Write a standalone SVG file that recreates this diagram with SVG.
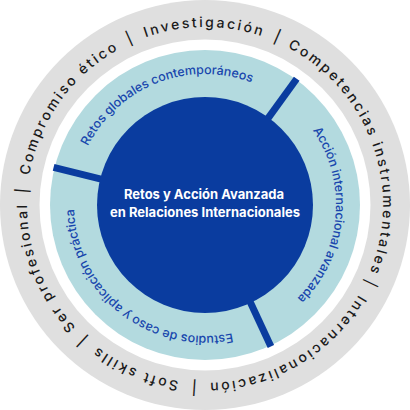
<svg xmlns="http://www.w3.org/2000/svg" width="410" height="410" viewBox="0 0 410 410">
  <style>
    .outer { font-family: Inter, "Liberation Sans", sans-serif; font-size: 14px; font-weight: 500; fill: #1a1a1a; letter-spacing: 2.4px; }
    .ring { font-family: Inter, "Liberation Sans", sans-serif; font-size: 12.5px; font-weight: 500; fill: #1846ad; }
    .center { font-family: Inter, "Liberation Sans", sans-serif; font-size: 13px; font-weight: bold; fill: #ffffff; }
    .divider { stroke: #0a3c9f; stroke-width: 7; }
  </style>
  <defs>
    <path id="outerPath" d="M 205 27 A 178 178 0 0 1 205 383 A 178 178 0 0 1 205 27 A 178 178 0 0 1 205 383 A 178 178 0 0 1 205 27" fill="none"/>
    <path id="ringPath" d="M 205 74 A 131 131 0 0 1 205 336 A 131 131 0 0 1 205 74 A 131 131 0 0 1 205 336 A 131 131 0 0 1 205 74" fill="none"/>
  </defs>
  <g id="outer-ring">
    <circle cx="205" cy="205" r="205" fill="#dfdfdf"/>
    <circle cx="205" cy="205" r="165.5" fill="#ffffff"/>
    <text class="outer" text-anchor="middle"><textPath href="#outerPath" startOffset="1117.5">Investigación</textPath></text>
    <text class="outer" text-anchor="middle"><textPath href="#outerPath" startOffset="218">Competencias instrumentales</textPath></text>
    <text class="outer" text-anchor="middle"><textPath href="#outerPath" startOffset="464.9">Internacionalización</textPath></text>
    <text class="outer" text-anchor="middle"><textPath href="#outerPath" startOffset="630.8">Soft skills</textPath></text>
    <text class="outer" text-anchor="middle"><textPath href="#outerPath" startOffset="772.3">Ser profesional</textPath></text>
    <text class="outer" text-anchor="middle"><textPath href="#outerPath" startOffset="948.5">Compromiso ético</textPath></text>
    <text class="outer" text-anchor="middle"><textPath href="#outerPath" startOffset="1043.2">|</textPath></text>
    <text class="outer" text-anchor="middle"><textPath href="#outerPath" startOffset="73.3">|</textPath></text>
    <text class="outer" text-anchor="middle"><textPath href="#outerPath" startOffset="359.1">|</textPath></text>
    <text class="outer" text-anchor="middle"><textPath href="#outerPath" startOffset="570.7">|</textPath></text>
    <text class="outer" text-anchor="middle"><textPath href="#outerPath" startOffset="690.9">|</textPath></text>
    <text class="outer" text-anchor="middle"><textPath href="#outerPath" startOffset="853.7">|</textPath></text>
  </g>
  <g id="inner-ring">
    <circle cx="205" cy="205" r="155" fill="#b3dadf"/>
    <text class="ring" text-anchor="middle"><textPath href="#ringPath" startOffset="774.2">Retos globales contemporáneos</textPath></text>
    <text class="ring" text-anchor="middle"><textPath href="#ringPath" startOffset="217.9">Acción internacional avanzada</textPath></text>
    <text class="ring" text-anchor="middle"><textPath href="#ringPath" startOffset="498.4">Estudios de caso y aplicación práctica</textPath></text>
  </g>
  <g id="connectors">
    <line class="divider" x1="266.7" y1="120.1" x2="296.7" y2="78.8"/>
    <line class="divider" x1="249.4" y1="300.2" x2="270.9" y2="346.4"/>
    <line class="divider" x1="103.1" y1="179.6" x2="53.6" y2="167.3"/>
  </g>
  <g id="center">
    <circle cx="205" cy="205" r="108" fill="#0a3c9f"/>
    <text class="center" text-anchor="middle" x="204" y="199">Retos y Acción Avanzada</text>
    <text class="center" text-anchor="middle" x="205" y="217">en Relaciones Internacionales</text>
  </g>
</svg>
